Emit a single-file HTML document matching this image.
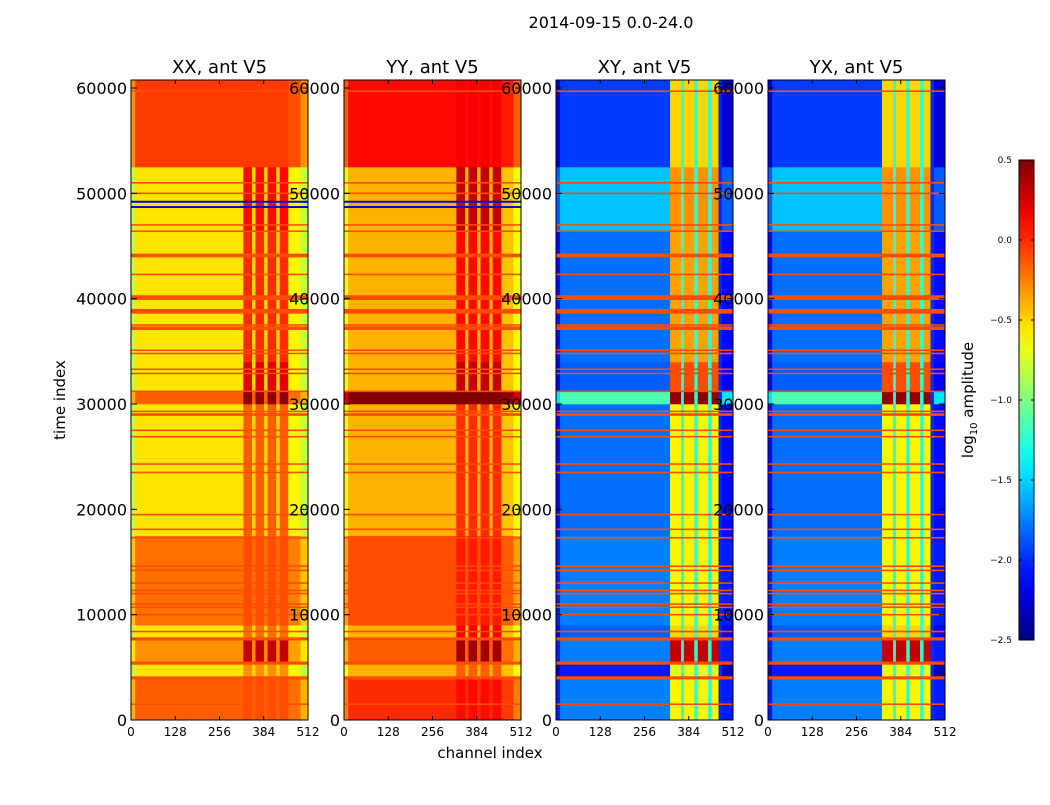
<!DOCTYPE html>
<html><head><meta charset="utf-8">
<style>
body{margin:0;background:#fff;width:1050px;height:800px;overflow:hidden;font-family:"Liberation Sans","DejaVu Sans",sans-serif;}
svg text{font-family:"DejaVu Sans","Liberation Sans",sans-serif;}
</style></head>
<body>
<svg id="fig" width="1050" height="800" xmlns="http://www.w3.org/2000/svg">
<text x="611" y="28" font-size="16" text-anchor="middle">2014-09-15 0.0-24.0</text>
<text x="490" y="758" font-size="15" text-anchor="middle">channel index</text>
<text transform="translate(65,400) rotate(-90)" font-size="15" text-anchor="middle">time index</text>
</svg>
<script>
// ---- data ----
const timeEdges=[0,4000,5400,7800,9000,17500,30000,31200,34000,46500,52500,60760];
const xxBase=[-0.15,-0.55,-0.3,-0.55,-0.2,-0.55,-0.15,-0.55,-0.55,-0.55,-0.05];
const xxBand=[-0.1,-0.3,0.3,-0.2,-0.1,-0.15,0.45,0.2,0.0,0.1,-0.05];
const yyBase=[0.0,-0.4,-0.15,-0.4,-0.1,-0.4,0.5,-0.4,-0.4,-0.4,0.1];
const yyBand=[0.1,-0.15,0.4,0.15,0.05,0.0,0.5,0.3,0.1,0.3,0.15];
const xyBase=[-1.75,-2.05,-1.75,-1.85,-1.75,-1.8,-1.15,-1.85,-1.8,-1.55,-1.95];
const xyBand=[-0.6,-0.7,0.3,-0.5,-0.6,-0.6,0.45,-0.1,-0.35,-0.3,-0.5];
const yxBase=[-1.75,-2.05,-1.75,-1.85,-1.75,-1.8,-1.15,-1.85,-1.8,-1.55,-1.95];
const yxBand=[-0.6,-0.7,0.3,-0.5,-0.6,-0.6,0.45,-0.1,-0.35,-0.3,-0.5];
const autoChanEdges=[0,12,325,350,360,385,395,420,430,455,490,512];
const crossChanEdges=[0,12,330,362,370,400,410,440,450,470,480,512];
const chanKinds=['edge','main','band','gap','band','gap','band','gap','band','post','edge'];
const lineTimes=[1500,4000,5400,7700,8400,10000,10700,11000,12000,12300,13000,14200,14600,17300,18100,19500,23500,24300,26900,27500,29000,29300,31200,32900,33300,34800,35100,37200,37500,38800,40100,42300,44100,46400,47000,50000,51000,59700];
const lineValues=[-0.1,-0.1,-0.1,-0.1,-0.1,-0.1,-0.1,-0.1,-0.1,-0.1,-0.1,-0.1,-0.1,-0.1,-0.1,-0.1,-0.1,-0.1,-0.1,-0.1,-0.1,-0.1,-0.1,-0.1,-0.1,-0.1,-0.1,-0.1,-0.1,-0.1,-0.1,-0.1,-0.1,-0.1,-0.1,-0.1,-0.1,-0.1];
const lineThick=[150,300,300,300,150,150,150,150,150,150,150,150,150,150,150,150,150,150,150,150,250,150,150,150,150,150,150,350,150,450,450,150,350,150,150,150,150,150];
const blueLineTimes=[48700,49200];
const panelTitles=['XX, ant V5','YY, ant V5','XY, ant V5','YX, ant V5'];
const xTickLabels=[0,128,256,384,512];
const yTickLabels=[0,10000,20000,30000,40000,50000,60000];
const cbarTicks=[0.5,0.0,-0.5,-1.0,-1.5,-2.0,-2.5];
const vmin=-2.5,vmax=0.5;

// ---- geometry ----
const panelLeft=[131,344,556,768],panelW=177,panelTop=80,panelBot=720,tMax=60760;
const NS='http://www.w3.org/2000/svg';
const svg=document.getElementById('fig');
function el(tag,attrs,parent){const e=document.createElementNS(NS,tag);for(const k in attrs)e.setAttribute(k,attrs[k]);(parent||svg).appendChild(e);return e;}
function yScale(t){return panelBot-(t/tMax)*(panelBot-panelTop);}
function xScale(p,c){return panelLeft[p]+c/512*panelW;}
function jet(v){let x=(v-vmin)/(vmax-vmin);x=Math.max(0,Math.min(1,x));
 const f=(a)=>Math.max(0,Math.min(1,1.5-Math.abs(4*x-a)));
 return 'rgb('+Math.round(255*f(3))+','+Math.round(255*f(2))+','+Math.round(255*f(1))+')';}
const bases=[xxBase,yyBase,xyBase,yxBase],bands=[xxBand,yyBand,xyBand,yxBand];
function cellValue(p,r,kind){const b=bases[p][r],bd=bands[p][r],cross=p>=2;
 if(kind==='main')return b;
 if(kind==='band')return bd;
 if(kind==='gap')return cross?-1.25:Math.max(b,-0.5);
 if(kind==='post')return cross?-2.0:b-0.05;
 return cross?b-0.3:b-0.25;}

for(let p=0;p<4;p++){
 const g=el('g',{});
 
 
 const ce=p>=2?crossChanEdges:autoChanEdges;
 for(let r=0;r<timeEdges.length-1;r++){
  for(let c=0;c<chanKinds.length;c++){
   const x0=xScale(p,ce[c]),x1=xScale(p,ce[c+1]),y0=yScale(timeEdges[r+1]),y1=yScale(timeEdges[r]);
   const rc=el('rect',{x:x0,y:y0,width:x1-x0+0.3,height:y1-y0+0.3,fill:jet(cellValue(p,r,chanKinds[c]))},g);
   
   
  }
 }
 for(let i=0;i<lineTimes.length;i++){
  const y=yScale(lineTimes[i]);const h=Math.max(1.2,lineThick[i]/tMax*(panelBot-panelTop));
  const ln=el('rect',{x:panelLeft[p],y:y-h/2,width:panelW,height:h,fill:jet(lineValues[i])},g);
  
  
 }
 if(p<2){for(const t of blueLineTimes){
  const bl=el('rect',{x:panelLeft[p],y:yScale(t)-1,width:panelW,height:2,fill:'#0000e0'},g);
  
  }}
 const fr=el('rect',{x:panelLeft[p],y:panelTop,width:panelW,height:panelBot-panelTop,fill:'none',stroke:'#000','stroke-width':1});
 
 
 const ti=el('text',{x:panelLeft[p]+panelW/2,y:73,'font-size':18,'text-anchor':'middle'});ti.textContent=panelTitles[p];
 
 
 for(const v of xTickLabels){const x=xScale(p,v);
  el('line',{x1:x,x2:x,y1:panelBot,y2:panelBot-4,stroke:'#000'});el('line',{x1:x,x2:x,y1:panelTop,y2:panelTop+4,stroke:'#000'});
  const tx=el('text',{x:x,y:736,'font-size':12,'text-anchor':'middle'});tx.textContent=v;
  
  }
 for(const v of yTickLabels){const y=yScale(v);
  el('line',{x1:panelLeft[p],x2:panelLeft[p]+6,y1:y,y2:y,stroke:'#000'});el('line',{x1:panelLeft[p]+panelW,x2:panelLeft[p]+panelW-6,y1:y,y2:y,stroke:'#000'});
  const ty=el('text',{x:panelLeft[p]-4,y:y+6,'font-size':16,'text-anchor':'end'});ty.textContent=v;
  
  }
}
// colorbar
const cbX=1019,cbW=15,cbTop=160,cbBot=640;
const defs=el('defs',{});const gr=el('linearGradient',{id:'jetg',x1:0,y1:1,x2:0,y2:0},defs);
for(let i=0;i<=20;i++){el('stop',{offset:i/20,'stop-color':jet(vmin+i/20*(vmax-vmin))},gr);}
const cb=el('rect',{x:cbX,y:cbTop,width:cbW,height:cbBot-cbTop,fill:'url(#jetg)',stroke:'#000','stroke-width':1});


for(const v of cbarTicks){const y=cbBot-(v-vmin)/(vmax-vmin)*(cbBot-cbTop);
 el('line',{x1:cbX,x2:cbX+3,y1:y,y2:y,stroke:'#000'});el('line',{x1:cbX+cbW,x2:cbX+cbW-3,y1:y,y2:y,stroke:'#000'});
 const t=el('text',{x:1012,y:y+3,'font-size':9,'text-anchor':'end'});t.textContent=(v<0?'\u2212'+(-v).toFixed(1):v.toFixed(1));
 
 }
const cl=el('text',{transform:'translate(973,400) rotate(-90)','font-size':15,'text-anchor':'middle'});
cl.innerHTML='log<tspan font-size="10" dy="4">10</tspan><tspan dy="-4"> amplitude</tspan>';


</script>
</body></html>
